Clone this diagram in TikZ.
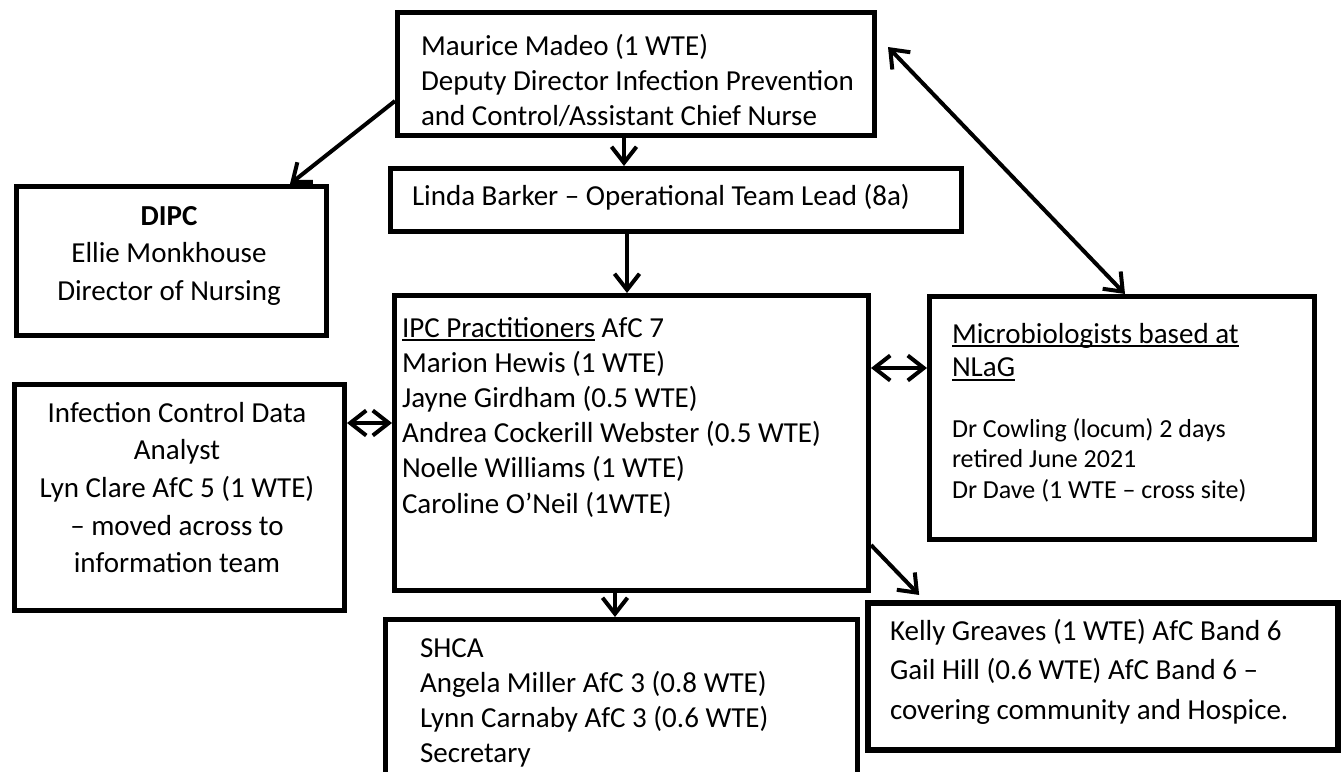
\documentclass[tikz,border=0pt]{standalone}
\usepackage{fontspec}
\setmainfont{Carlito}
\usetikzlibrary{arrows.meta}

% first-line strut so that a text block's top sits a fixed height above its first baseline
\newcommand{\topstrut}{\rule{0pt}{25pt}}
\newcommand{\smallstrut}{\rule{0pt}{22pt}}
% underline drawn as a rule just below the baseline
\newsavebox{\ulinebox}
\newcommand{\ulined}[1]{\sbox{\ulinebox}{#1}\rlap{\rule[-4pt]{\wd\ulinebox}{1.8pt}}\usebox{\ulinebox}}

\begin{document}
\begin{tikzpicture}[x=1pt,y=-1pt,
  box/.style={draw=black, line width=5pt, fill=white, inner sep=0pt, anchor=north west},
  thickbox/.style={box, line width=6pt},
  txt/.style={inner sep=0pt, outer sep=0pt, align=left, anchor=north west},
  ctxt/.style={inner sep=0pt, outer sep=0pt, align=center, anchor=north},
  conn/.style={line width=4pt, ->},
  biconn/.style={line width=4pt, <->},
  >={Straight Barb[length=16pt,width=25pt]}]

\useasboundingbox (0,0) rectangle (1341,771);
\clip (0,0) rectangle (1341,771);

% ---- boxes ----
\node[box, minimum width=477pt, minimum height=123pt] (maurice) at (395,10) {};
\node[box, minimum width=571pt, minimum height=63pt]  (linda)   at (388,166) {};
\node[box, minimum width=310pt, minimum height=149pt] (dipc)    at (14,184) {};
\node[box, minimum width=474pt, minimum height=295pt] (ipc)     at (392,293) {};
\node[box, minimum width=385pt, minimum height=243pt] (micro)   at (927,294) {};
\node[box, minimum width=330pt, minimum height=226pt] (infect)  at (12,382) {};
\node[box, minimum width=472pt, minimum height=200pt] (shca)    at (383,617) {};
\node[thickbox, minimum width=470pt, minimum height=147pt] (kelly) at (865,600) {};

% ---- texts ----
\node[txt, font=\fontsize{29}{35}\selectfont] (maurice-t) at (421,30)
  {\topstrut Maurice Madeo (1 WTE)\\Deputy Director Infection Prevention\\and Control/Assistant Chief Nurse};
\node[txt, font=\fontsize{29}{35}\selectfont] (linda-t) at (412,180)
  {\topstrut Linda Barker – Operational Team Lead (8a)};
\node[ctxt, font=\fontsize{29}{37.5}\selectfont] (dipc-t) at (169,200)
  {\topstrut\textbf{DIPC}\\Ellie Monkhouse\\Director of Nursing};
\node[ctxt, font=\fontsize{29}{37.7}\selectfont] (infect-t) at (177,397)
  {\topstrut Infection Control Data\\Analyst\\Lyn Clare AfC 5 (1 WTE)\\– moved across to\\information team};
\node[txt, font=\fontsize{29}{35.2}\selectfont] (ipc-t) at (402,312)
  {\topstrut\ulined{IPC Practitioners} AfC 7\\Marion Hewis (1 WTE)\\Jayne Girdham (0.5 WTE)\\Andrea Cockerill Webster (0.5 WTE)\\Noelle Williams (1 WTE)\\Caroline O’Neil (1WTE)};
\node[txt, font=\fontsize{29}{33.5}\selectfont] (micro-t) at (952,318)
  {\topstrut\ulined{Microbiologists based at}\\\ulined{NLaG}};
\node[txt, font=\fontsize{26}{30.5}\selectfont] (micro-s) at (952,415)
  {\smallstrut Dr Cowling (locum) 2 days\\retired June 2021\\Dr Dave (1 WTE – cross site)};
\node[txt, font=\fontsize{29}{39.5}\selectfont] (kelly-t) at (890,615)
  {\topstrut Kelly Greaves (1 WTE) AfC Band 6\\Gail Hill (0.6 WTE) AfC Band 6 –\\covering community and Hospice.};
\node[txt, font=\fontsize{29}{35.3}\selectfont] (shca-t) at (420,632)
  {\topstrut SHCA\\Angela Miller AfC 3 (0.8 WTE)\\Lynn Carnaby AfC 3 (0.6 WTE)\\Secretary};

% ---- connectors ----
\draw[conn] (maurice.west |- 0,101) -- (290,0 |- dipc.north);
\draw[conn] (624,0 |- maurice.south) -- (624,0 |- linda.north);
\draw[conn] (627,0 |- linda.south) -- (627,0 |- ipc.north);
\draw[biconn] ([xshift=11pt]maurice.east |- 0,47) -- (1125,0 |- micro.north);
\draw[biconn] (ipc.east |- 0,368) -- (micro.west |- 0,368);
\draw[biconn] (infect.east |- 0,423) -- (ipc.west |- 0,423);
\draw[conn] (615,0 |- ipc.south) -- (615,0 |- shca.north);
\draw[conn, shorten >=7pt] (ipc.east |- 0,545) -- (924,0 |- kelly.north);

\end{tikzpicture}
\end{document}
